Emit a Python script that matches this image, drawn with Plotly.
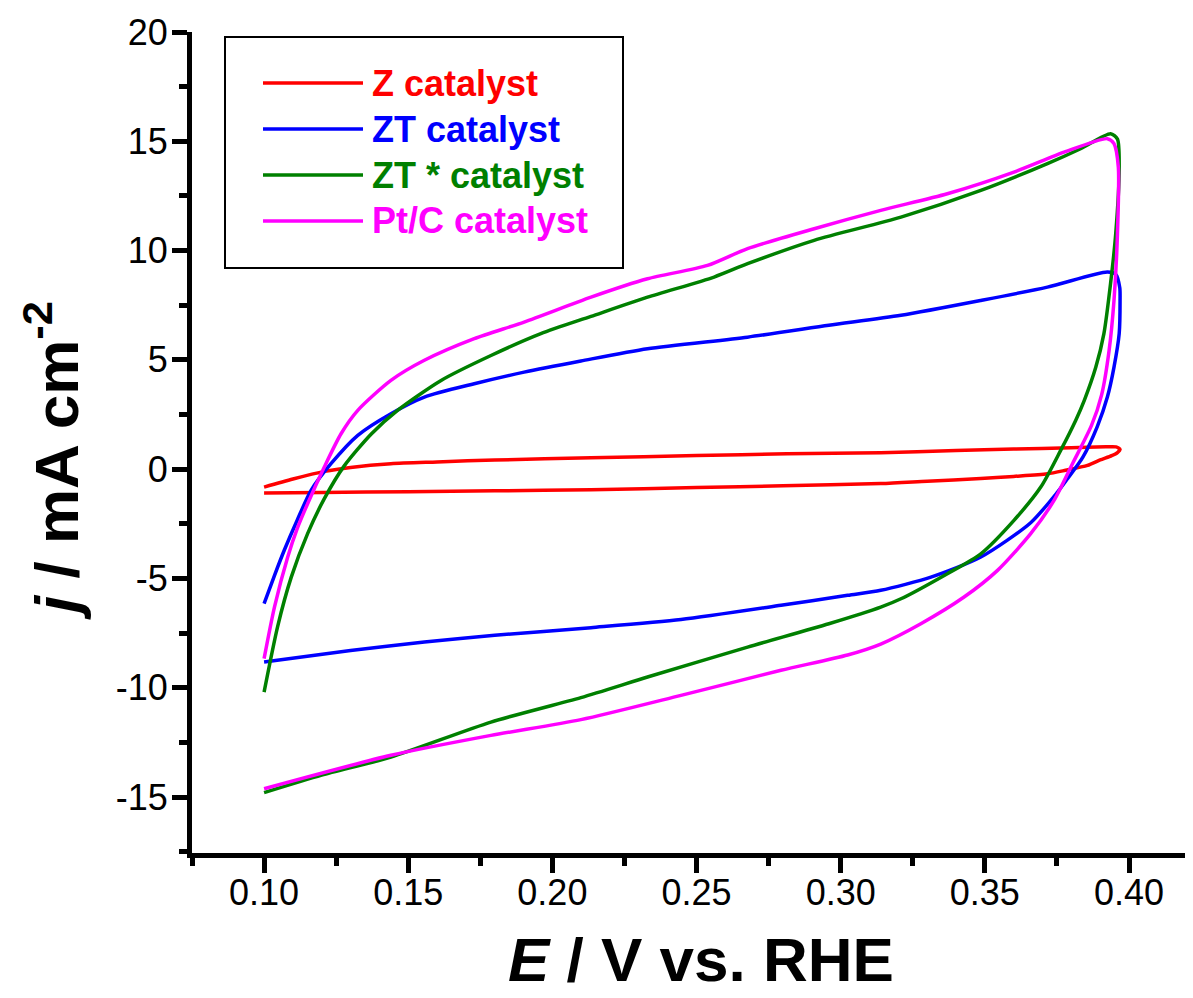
import plotly.graph_objects as go

# ---------------- data ----------------
series_names = ["Z catalyst", "ZT catalyst", "ZT * catalyst", "Pt/C catalyst"]
series_colors = ["#FF0000", "#0000FF", "#008000", "#FF00FF"]

z_x = [0.100, 0.110, 0.121, 0.130, 0.144, 0.160, 0.180, 0.2134, 0.250, 0.2814, 0.3139, 0.340, 0.360, 0.380,
       0.392, 0.3955, 0.3969, 0.3960, 0.3940, 0.3900, 0.3856, 0.3780, 0.3717, 0.3600, 0.3486, 0.3300, 0.3139,
       0.280, 0.250, 0.2134, 0.180, 0.150, 0.120, 0.100]
z_y = [-0.82, -0.45, -0.10, 0.08, 0.25, 0.33, 0.42, 0.52, 0.62, 0.70, 0.75, 0.85, 0.92, 0.98,
       1.02, 1.02, 0.90, 0.76, 0.62, 0.42, 0.17, -0.05, -0.21, -0.33, -0.43, -0.55, -0.66,
       -0.76, -0.84, -0.94, -0.99, -1.03, -1.07, -1.09]

zt_x = [0.100, 0.1035, 0.107, 0.1116, 0.1163, 0.1232, 0.1325, 0.144, 0.1556, 0.1729, 0.1902, 0.2099, 0.233,
        0.2677, 0.2959, 0.3209, 0.3486, 0.3717, 0.3925, 0.3955, 0.3968, 0.3969, 0.3966, 0.3948, 0.3925, 0.3890,
        0.3840, 0.3786, 0.3752, 0.3659, 0.3486, 0.3313, 0.3139, 0.3024, 0.2793, 0.2446, 0.2134,
        0.180, 0.1556, 0.130, 0.100]
zt_y = [-6.15, -4.90, -3.71, -2.30, -0.97, 0.25, 1.55, 2.54, 3.30, 3.91, 4.44, 4.95, 5.51,
        6.04, 6.58, 7.04, 7.72, 8.33, 9.02, 8.90, 8.30, 7.72, 6.20, 4.67, 3.30, 1.95,
        0.55, -0.45, -1.05, -2.45, -4.02, -4.94, -5.54, -5.77, -6.23, -6.88, -7.25,
        -7.60, -7.91, -8.30, -8.82]

zts_x = [0.100, 0.1047, 0.1094, 0.1151, 0.1209, 0.1278, 0.1371, 0.1463, 0.1614, 0.1787, 0.196, 0.2134, 0.233,
         0.2561, 0.2677, 0.2908, 0.3209, 0.3486, 0.3717, 0.3832, 0.3936, 0.3960, 0.3966, 0.3954, 0.3936, 0.3913,
         0.3885, 0.3845, 0.3815, 0.3763, 0.3694, 0.3601, 0.3486, 0.3370, 0.3209, 0.3139, 0.2959, 0.2677,
         0.233, 0.2099, 0.1787, 0.144, 0.120, 0.100]
zts_y = [-10.20, -7.20, -4.95, -2.95, -1.35, 0.15, 1.60, 2.69, 4.06, 5.20, 6.20, 6.99, 7.87,
         8.79, 9.40, 10.47, 11.53, 12.75, 13.98, 14.66, 15.35, 15.10, 13.80, 10.77, 8.49, 6.20,
         4.67, 3.15, 2.23, 0.86, -0.82, -2.34, -3.87, -4.78, -5.93, -6.31, -7.07, -8.14,
         -9.51, -10.45, -11.57, -13.17, -14.00, -14.80]

pt_x = [0.100, 0.1036, 0.1082, 0.1114, 0.1151, 0.1209, 0.1267, 0.1325, 0.144, 0.1556, 0.1729, 0.1902, 0.2134,
        0.233, 0.2538, 0.2677, 0.2908, 0.3139, 0.3370, 0.3601, 0.3775, 0.3925, 0.3948, 0.3963, 0.3960, 0.3948,
        0.3931, 0.3905, 0.3870, 0.3804, 0.3740, 0.3659, 0.3544, 0.3428, 0.3278, 0.3139, 0.3024, 0.2793,
        0.2446, 0.2099, 0.1787, 0.144, 0.100]
pt_y = [-8.67, -6.31, -4.02, -2.75, -1.58, 0.10, 1.62, 2.69, 4.06, 4.98, 5.97, 6.73, 7.87,
        8.71, 9.32, 10.09, 11.00, 11.84, 12.60, 13.59, 14.50, 15.12, 14.89, 13.82, 10.77, 7.72,
        5.43, 3.40, 2.00, 0.25, -1.43, -2.95, -4.63, -5.85, -7.07, -8.00, -8.50, -9.20,
        -10.35, -11.46, -12.18, -13.09, -14.62]

x_tickvals = [0.10, 0.15, 0.20, 0.25, 0.30, 0.35, 0.40]
x_ticktext = ["0.10", "0.15", "0.20", "0.25", "0.30", "0.35", "0.40"]
y_tickvals = [-15, -10, -5, 0, 5, 10, 15, 20]
y_ticktext = ["-15", "-10", "-5", "0", "5", "10", "15", "20"]

x_title = "<b><i>E</i> / V vs. RHE</b>"
y_title = "<b><i>j</i> / mA cm<sup>-2</sup></b>"

# ---------------- figure ----------------
# the page body has an 8 px margin, so the figure is 8 px smaller and the
# margins are reduced by 8 px so that the plot area sits where it does in the reference
BODY = 8
W, H = 1193 - BODY, 998 - BODY
ML, MR, MT = 192 - BODY, 0, 32 - BODY
MB = H - (853 - BODY)
PW, PH = W - ML - MR, H - MT - MB


def px_to_paper(px, py):
    # page pixel -> paper coordinates
    return (px - BODY - ML) / PW, (H - MB - (py - BODY)) / PH


fig = go.Figure()
xs = [z_x, zt_x, zts_x, pt_x]
ys = [z_y, zt_y, zts_y, pt_y]
for name, color, x, y in zip(series_names, series_colors, xs, ys):
    fig.add_trace(go.Scatter(
        x=x, y=y, mode="lines", name=name, showlegend=False,
        line=dict(color=color, width=3.5, shape="spline", smoothing=0.7),
    ))

tick_font = dict(family="Arial, Liberation Sans, sans-serif", size=36, color="black")

fig.update_layout(
    width=W, height=H, autosize=False,
    margin=dict(l=ML, r=MR, t=MT, b=MB, pad=0),
    paper_bgcolor="white", plot_bgcolor="white",
    showlegend=False,
    xaxis=dict(
        range=[0.075, 0.4222], showgrid=False, zeroline=False,
        showline=True, linewidth=5, linecolor="black",
        ticks="outside", ticklen=15, tickwidth=5, tickcolor="black",
        tickvals=x_tickvals, ticktext=x_ticktext, tickfont=tick_font,
        ticklabelstandoff=-11,
        minor=dict(ticks="outside", ticklen=8, tickwidth=5, tickcolor="black",
                   tick0=0.075, dtick=0.025),
    ),
    yaxis=dict(
        range=[-17.56, 20], showgrid=False, zeroline=False,
        showline=True, linewidth=5, linecolor="black",
        ticks="outside", ticklen=15, tickwidth=5, tickcolor="black",
        tickvals=y_tickvals, ticktext=y_ticktext, tickfont=tick_font,
        ticklabelstandoff=-3,
        minor=dict(ticks="outside", ticklen=8, tickwidth=5, tickcolor="black",
                   tick0=0, dtick=2.5),
    ),
)

title_font = dict(family="Arial, Liberation Sans, sans-serif", size=62, color="black")

# axis titles
tx, ty = px_to_paper(701, 960)
fig.add_annotation(text=x_title, xref="paper", yref="paper", x=tx, y=ty,
                   xanchor="center", yanchor="middle", showarrow=False, font=title_font)
tx, ty = px_to_paper(52, 461)
fig.add_annotation(text=y_title, xref="paper", yref="paper", x=tx, y=ty, textangle=-90,
                   xanchor="center", yanchor="middle", showarrow=False, font=title_font)

# legend box (drawn manually to match the reference layout)
bx0, by0 = px_to_paper(225, 268)
bx1, by1 = px_to_paper(623, 37)
fig.add_shape(type="rect", xref="paper", yref="paper", x0=bx0, y0=by0, x1=bx1, y1=by1,
              line=dict(color="black", width=2), fillcolor="white", layer="above")
legend_rows_py = [83, 129, 175, 221]
for name, color, py in zip(series_names, series_colors, legend_rows_py):
    lx0, ly = px_to_paper(263, py)
    lx1, _ = px_to_paper(363, py)
    fig.add_shape(type="line", xref="paper", yref="paper", x0=lx0, x1=lx1, y0=ly, y1=ly,
                  line=dict(color=color, width=3.5), layer="above")
    tx, _ = px_to_paper(370, py)
    fig.add_annotation(text="<b>" + name + "</b>", xref="paper", yref="paper", x=tx, y=ly,
                       xanchor="left", yanchor="middle", showarrow=False,
                       font=dict(family="Arial, Liberation Sans, sans-serif", size=36, color=color))

fig.write_html("out.html")
